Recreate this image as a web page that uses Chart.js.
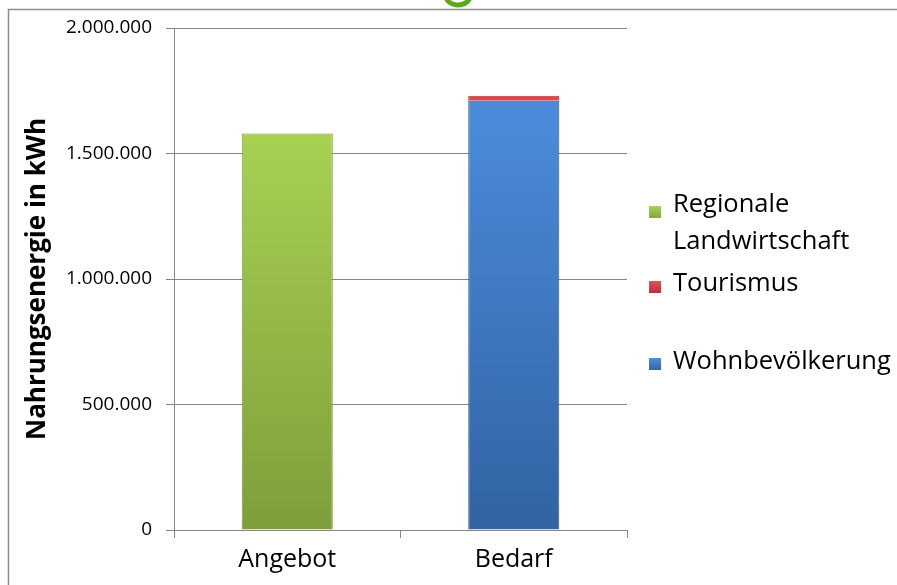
<!DOCTYPE html>
<html lang="de">
<head>
    <meta charset="UTF-8">
    <title>Nahrungsenergie</title>
    <script src="https://cdn.jsdelivr.net/npm/chart.js@4"></script>
    <style>
        body { margin: 0; background: #fff; }
        #wrap { position: relative; width: 897px; height: 585px; }
        #legend { position: absolute; left: 0; top: 0; font-family: "Open Sans", sans-serif; font-size: 25.5px; color: #000; }
        .txt { position: absolute; left: 673px; line-height: 30px; white-space: nowrap; }
        .box { position: absolute; left: 649px; width: 12px; height: 12px; }
    </style>
</head>
<body>
<div id="wrap">
    <canvas id="chart" width="897" height="585"></canvas>
    <div id="legend">
        <span class="box" style="top:206px;background:linear-gradient(#a8d252,#86a83f)"></span>
        <div class="txt" style="top:187px">Regionale</div>
        <div class="txt" style="top:224px">Landwirtschaft</div>
        <span class="box" style="top:281px;background:linear-gradient(#dd5557,#b73436)"></span>
        <div class="txt" style="top:266px">Tourismus</div>
        <span class="box" style="top:358px;background:linear-gradient(#4f8fdb,#3565a5)"></span>
        <div class="txt" style="top:344px">Wohnbevölkerung</div>
    </div>
</div>

<script>
// categories and values (kWh)
const categories = ['Angebot', 'Bedarf'];
const wohnbevoelkerung = [0, 1710000];
const tourismus = [0, 20000];
const landwirtschaft = [1580000, 0];
const yTicks = [0, 500000, 1000000, 1500000, 2000000];

function grad(top, bottom) {
    return function (context) {
        const area = context.chart.chartArea;
        if (!area) return bottom;
        const g = context.chart.ctx.createLinearGradient(0, area.top + 100, 0, area.bottom);
        g.addColorStop(0, top);
        g.addColorStop(1, bottom);
        return g;
    };
}

// frame + little logo at the top
const framePlugin = {
    id: 'frame',
    beforeDraw(chart) {
        const ctx = chart.ctx;
        ctx.save();
        ctx.strokeStyle = '#8c8c8c';
        ctx.lineWidth = 1.5;
        ctx.beginPath();
        ctx.moveTo(8.5, 585);
        ctx.lineTo(8.5, 9.5);
        ctx.lineTo(897, 9.5);
        ctx.stroke();
        ctx.strokeStyle = '#5aab1c';
        ctx.lineWidth = 5;
        ctx.beginPath();
        ctx.ellipse(458, -4, 12, 9, 0, 0.05 * Math.PI, 0.95 * Math.PI);
        ctx.stroke();
        ctx.restore();
    }
};

const fontFamily = '"Open Sans", sans-serif';
const ctx = document.getElementById('chart').getContext('2d');
new Chart(ctx, {
    type: 'bar',
    data: {
        labels: categories,
        datasets: [
            { label: 'Wohnbevölkerung', data: wohnbevoelkerung, backgroundColor: grad('#4a8ad8', '#3263a2'), borderColor: '#2f5d96', borderWidth: 1 },
            { label: 'Tourismus', data: tourismus, backgroundColor: '#d9484a', borderColor: '#b83336', borderWidth: 1 },
            { label: 'Regionale Landwirtschaft', data: landwirtschaft, backgroundColor: grad('#a8d252', '#7e9e3b'), borderColor: '#789a36', borderWidth: 1 }
        ]
    },
    options: {
        responsive: false,
        animation: false,
        layout: { padding: { top: 28, right: 270, left: 0, bottom: 0 } },
        datasets: { bar: { barPercentage: 0.402, categoryPercentage: 1 } },
        plugins: { legend: { display: false }, tooltip: { enabled: false } },
        scales: {
            x: {
                stacked: true,
                afterFit(scale) { scale.height = 55; },
                grid: { drawOnChartArea: false, drawTicks: true, tickLength: 8, color: '#868686' },
                border: { color: '#868686' },
                ticks: { color: '#000', font: { family: fontFamily, size: 25 }, padding: 7 }
            },
            y: {
                stacked: true,
                min: 0,
                max: 2000000,
                afterFit(scale) { scale.width = 174; },
                afterBuildTicks(scale) { scale.ticks = yTicks.map(v => ({ value: v })); },
                grid: { color: '#868686', tickLength: 8 },
                border: { color: '#868686' },
                ticks: {
                    color: '#000',
                    padding: 14,
                    font: { family: fontFamily, size: 19 },
                    callback: v => v.toLocaleString('de-DE')
                },
                title: {
                    display: true,
                    text: 'Nahrungsenergie in kWh',
                    color: '#000',
                    font: { family: fontFamily, size: 26, weight: 'bold' },
                    padding: { top: 22 }
                }
            }
        }
    },
    plugins: [framePlugin]
});
</script>
</body>
</html>
